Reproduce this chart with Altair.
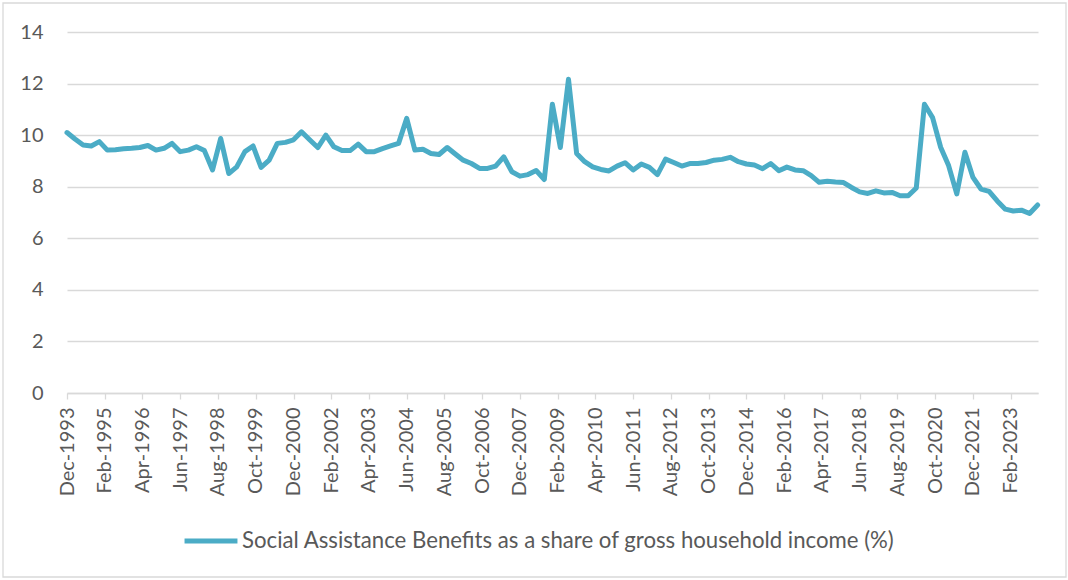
import altair as alt
import pandas as pd

SERIES = "Social Assistance Benefits as a share of gross household income (%)"

# Quarterly share (%), Dec-1993 to Dec-2023
share = [
    10.10, 9.85, 9.62, 9.58, 9.75, 9.42, 9.43, 9.47, 9.49, 9.52,
    9.60, 9.42, 9.49, 9.68, 9.36, 9.42, 9.55, 9.40, 8.65, 9.87,
    8.51, 8.77, 9.36, 9.58, 8.75, 9.03, 9.68, 9.72, 9.82, 10.13,
    9.82, 9.52, 10.00, 9.55, 9.40, 9.40, 9.65, 9.36, 9.36, 9.48,
    9.58, 9.68, 10.65, 9.42, 9.45, 9.29, 9.25, 9.52, 9.27, 9.03,
    8.90, 8.71, 8.71, 8.80, 9.16, 8.58, 8.41, 8.47, 8.63, 8.28,
    11.20, 9.52, 12.17, 9.29, 8.97, 8.77, 8.67, 8.61, 8.80, 8.93,
    8.65, 8.88, 8.75, 8.47, 9.07, 8.94, 8.80, 8.90, 8.90, 8.94,
    9.03, 9.06, 9.14, 8.97, 8.88, 8.84, 8.70, 8.90, 8.62, 8.76,
    8.65, 8.62, 8.43, 8.17, 8.21, 8.18, 8.16, 7.97, 7.80, 7.74,
    7.84, 7.76, 7.78, 7.65, 7.65, 7.95, 11.20, 10.68, 9.53, 8.82,
    7.72, 9.34, 8.36, 7.91, 7.82, 7.45, 7.13, 7.06, 7.09, 6.96,
    7.29,
]
quarters = pd.date_range("1993-12-01", periods=len(share), freq="3MS")

tick_labels = [
    "Dec-1993", "Feb-1995", "Apr-1996", "Jun-1997", "Aug-1998", "Oct-1999",
    "Dec-2000", "Feb-2002", "Apr-2003", "Jun-2004", "Aug-2005", "Oct-2006",
    "Dec-2007", "Feb-2009", "Apr-2010", "Jun-2011", "Aug-2012", "Oct-2013",
    "Dec-2014", "Feb-2016", "Apr-2017", "Jun-2018", "Aug-2019", "Oct-2020",
    "Dec-2021", "Feb-2023",
]
y_ticks = [0, 2, 4, 6, 8, 10, 12, 14]

MONTHS = {"Jan": 1, "Feb": 2, "Mar": 3, "Apr": 4, "May": 5, "Jun": 6,
          "Jul": 7, "Aug": 8, "Sep": 9, "Oct": 10, "Nov": 11, "Dec": 12}


def to_dt(label):
    return alt.DateTime(year=int(label[4:]), month=MONTHS[label[:3]], date=1, utc=True)


tick_values = [to_dt(t) for t in tick_labels]

df = pd.DataFrame({
    "date": quarters.strftime("%Y-%m-%d"),
    "share": share,
    "series": SERIES,
})

FONT = "Lato"
TEXT = "#595959"
GRID = "#D9D9D9"
LINE = "#4BACC6"

line = alt.Chart(df).mark_line(
    strokeWidth=5, strokeJoin="round", strokeCap="round"
).encode(
    x=alt.X(
        "date:T",
        scale=alt.Scale(
            type="utc",
            domain=[alt.DateTime(year=1993, month=12, date=1, utc=True),
                    alt.DateTime(year=2023, month=12, date=5, utc=True)],
        ),
        axis=alt.Axis(
            values=tick_values,
            labelExpr="utcFormat(datum.value, '%b-%Y')",
            labelAngle=270,
            labelFont=FONT,
            labelFontSize=20,
            labelColor=TEXT,
            labelPadding=8,
            tickSize=6,
            tickColor=GRID,
            tickWidth=1.3,
            domainColor=GRID,
            domainWidth=1.3,
            grid=False,
            title=None,
            labelOverlap=False,
        ),
    ),
    y=alt.Y(
        "share:Q",
        scale=alt.Scale(domain=[0, 14], nice=False, zero=True),
        axis=alt.Axis(
            values=y_ticks,
            labelFont=FONT,
            labelFontSize=20,
            labelColor=TEXT,
            labelPadding=24,
            ticks=False,
            tickSize=0,
            domain=False,
            grid=True,
            gridColor=GRID,
            gridWidth=1.3,
            title=None,
        ),
    ),
    color=alt.Color(
        "series:N",
        scale=alt.Scale(range=[LINE]),
        legend=alt.Legend(
            title=None,
            orient="none",
            legendX=115,
            legendY=480,
            symbolType="stroke",
            symbolSize=2800,
            symbolStrokeWidth=5,
            labelFont=FONT,
            labelFontSize=22.2,
            labelColor=TEXT,
            labelLimit=1000,
            labelOffset=2,
        ),
    ),
)

# thin frame around the whole figure
frame = alt.Chart(alt.Data(values=[{"k": 1}])).mark_rect(
    fillOpacity=0, stroke=GRID, strokeWidth=1.3
).encode(
    x=alt.value(-64), x2=alt.value(999), y=alt.value(-29), y2=alt.value(545)
)

chart = alt.layer(frame, line).properties(
    width=971,
    height=361,
    autosize=alt.AutoSizeParams(type="none"),
    padding={"left": 67, "top": 32, "right": 30, "bottom": 187},
    background="white",
).configure_view(strokeWidth=0)

chart.save("out.html", embed_options={"renderer": "svg", "actions": False})
